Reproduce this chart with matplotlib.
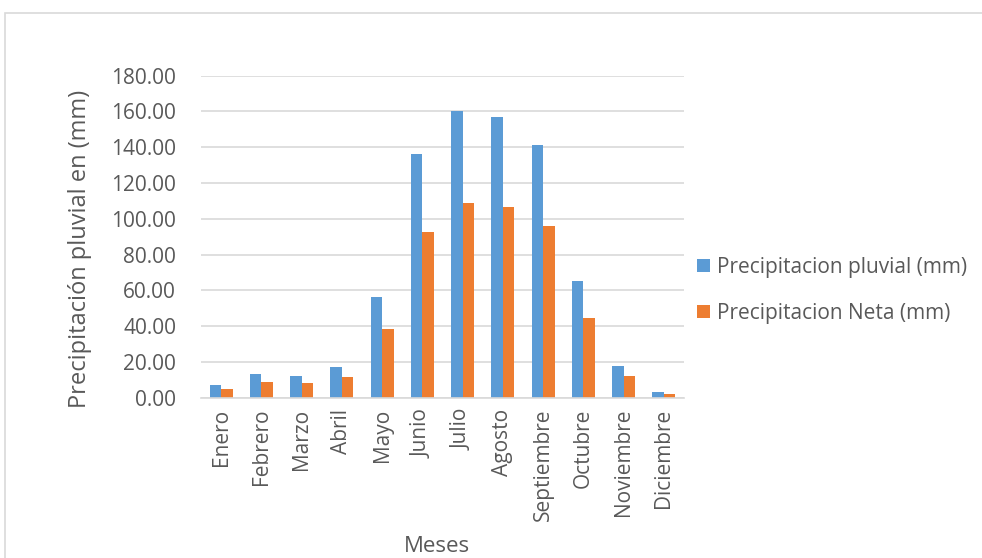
import matplotlib.pyplot as plt
from matplotlib.patches import Rectangle
import numpy as np

plt.rcParams['font.family'] = ['Open Sans', 'DejaVu Sans']

meses = ['Enero', 'Febrero', 'Marzo', 'Abril', 'Mayo', 'Junio', 'Julio',
         'Agosto', 'Septiembre', 'Octubre', 'Noviembre', 'Diciembre']
pluvial = [7.3, 13.2, 12.1, 17.2, 56.5, 136.0, 160.3, 156.7, 141.1, 65.4, 17.7, 3.4]
neta = [5.0, 9.0, 8.2, 11.7, 38.2, 92.4, 108.8, 106.4, 96.1, 44.4, 12.1, 2.2]
yticks = np.arange(0, 181, 20)

azul = '#5B9BD5'
naranja = '#ED7D31'
gris = '#595959'
linea = '#D9D9D9'

fig = plt.figure(figsize=(9.82, 5.58), dpi=100)
# marco del grafico
fig.patches.append(Rectangle((5 / 982, -0.1), 1.2, (1 - 12.5 / 558) + 0.1,
                             transform=fig.transFigure, fill=False,
                             edgecolor=linea, linewidth=1.2))

ax = fig.add_axes([201 / 982, 1 - 397.7 / 558, 483 / 982, 322 / 558])
x = np.arange(len(meses))
w = 0.285
ax.bar(x - w / 2, pluvial, width=w, color=azul, label='Precipitacion pluvial (mm)', zorder=3)
ax.bar(x + w / 2, neta, width=w, color=naranja, label='Precipitacion Neta (mm)', zorder=3)

ax.set_xlim(-0.5, len(meses) - 0.5)
ax.set_ylim(0, 180)
ax.set_yticks(yticks)
ax.set_yticklabels(['%.2f' % v for v in yticks])
ax.set_xticks(x)
ax.set_xticklabels(meses, rotation=90)
ax.grid(axis='y', color=linea, linewidth=1.2, zorder=0)
for s in ['top', 'right', 'left']:
    ax.spines[s].set_visible(False)
ax.spines['bottom'].set_color(linea)
ax.spines['bottom'].set_linewidth(1.2)
ax.spines['bottom'].set_zorder(4)
ax.tick_params(axis='both', length=0, colors=gris, labelsize=15)
ax.tick_params(axis='y', pad=18)
ax.tick_params(axis='x', pad=8)

ax.set_ylabel('Precipitación pluvial en (mm)', fontsize=17, color=gris)
ax.yaxis.set_label_coords(-0.226, 0.462)
fig.text(437 / 982, 1 - 546 / 558, 'Meses', fontsize=16, color=gris, ha='center', va='center')

leg = ax.legend(loc='center left', bbox_to_anchor=(1 + 13 / 483, 0.333), frameon=False,
                fontsize=15, labelcolor=gris, handlelength=0.63, handleheight=0.63,
                handletextpad=0.34, labelspacing=1.2, borderaxespad=0, borderpad=0)

fig.savefig('out.png', dpi=100)
